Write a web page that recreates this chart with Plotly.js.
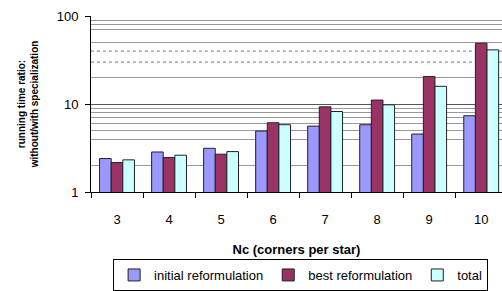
<!DOCTYPE html>
<html>
<head>
<meta charset="utf-8">
<script src="https://cdn.plot.ly/plotly-3.0.1.min.js"></script>
<style>html,body{margin:0;padding:0;background:#fff;overflow:hidden}#chart{width:502px;height:291px}</style>
</head>
<body>
<div id="chart"></div>
<script>
const categories = ['3','4','5','6','7','8','9','10'];
const initialReformulation = [2.40, 2.85, 3.14, 4.93, 5.61, 5.82, 4.56, 7.36];
const bestReformulation = [2.16, 2.47, 2.69, 6.13, 9.29, 11.1, 20.6, 49.2];
const totalRatio = [2.32, 2.62, 2.88, 5.82, 8.23, 9.8, 15.9, 41.3];
const seriesNames = ['initial reformulation', 'best reformulation', 'total'];
const yTickVals = [1, 10, 100];
const yTickText = ['1', '10', '100'];
const solidMinorGrid = [2, 4, 5, 6, 7, 8, 9, 20, 50, 70, 80, 90];
const dottedMinorGrid = [30, 40];

const FONT = 'Liberation Sans, Arial, sans-serif';
const line = {color: '#222', width: 1};
const traces = [
  {type: 'bar', name: seriesNames[0], x: categories, y: initialReformulation, marker: {color: '#9999FF', line: line}},
  {type: 'bar', name: seriesNames[1], x: categories, y: bestReformulation, marker: {color: '#993366', line: line}},
  {type: 'bar', name: seriesNames[2], x: categories, y: totalRatio, marker: {color: '#CCFFFF', line: line}}
];

const dottedShapes = dottedMinorGrid.map(v => ({
  type: 'line', xref: 'paper', yref: 'y', x0: 0, x1: 1, y0: v, y1: v,
  layer: 'below', line: {color: '#777', width: 1, dash: 'dot'}
}));

const layout = {
  width: 502, height: 291,
  margin: {l: 91, r: 0, t: 16, b: 98},
  paper_bgcolor: '#fff', plot_bgcolor: '#fff',
  font: {family: FONT, size: 13, color: '#000'},
  barmode: 'group', bargap: 0.33, bargroupgap: 0,
  showlegend: true,
  legend: {
    orientation: 'h', x: 0.51, xanchor: 'center', y: -0.378, yanchor: 'top',
    bordercolor: '#000', borderwidth: 1, font: {family: FONT, size: 13},
    itemwidth: 30, tracegroupgap: 0
  },
  shapes: dottedShapes,
  xaxis: {
    type: 'category', range: [-0.5, 7.4],
    showline: true, linecolor: '#000', linewidth: 1,
    ticks: 'outside', tickson: 'boundaries', ticklen: 5, tickcolor: '#000',
    ticklabelstandoff: 15,
    showgrid: false, zeroline: false,
    tickfont: {family: FONT, size: 13},
    title: {text: '<b>Nc (corners per star)</b>', font: {family: FONT, size: 13}, standoff: 19}
  },
  yaxis: {
    type: 'log', range: [0, 2.001],
    tickvals: yTickVals, ticktext: yTickText,
    showline: true, linecolor: '#000', linewidth: 1,
    ticks: 'outside', ticklen: 5, tickcolor: '#000',
    ticklabelstandoff: 4,
    showgrid: true, gridcolor: '#555', gridwidth: 1,
    zeroline: false,
    tickfont: {family: FONT, size: 13},
    minor: {tickmode: 'array', tickvals: solidMinorGrid, showgrid: true, gridcolor: '#999', gridwidth: 1, ticks: ''},
    title: {text: '<b>running time ratio:<br>without/with specialization</b>', font: {family: FONT, size: 10}, standoff: 16}
  }
};

Plotly.newPlot('chart', traces, layout, {displayModeBar: false, staticPlot: true});
</script>
</body>
</html>
